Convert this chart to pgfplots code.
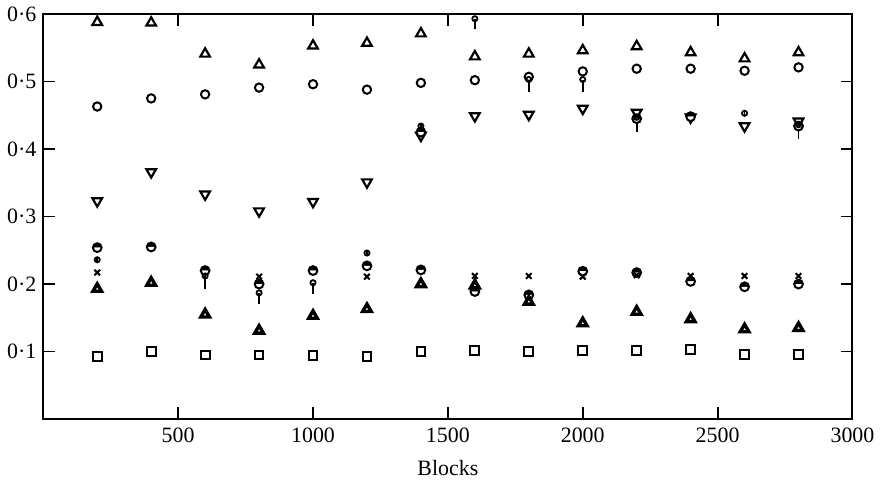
\documentclass[border=0pt]{standalone}
\usepackage{fontspec}
\setmainfont{Liberation Serif}
\usepackage{pgfplots}
\pgfplotsset{compat=1.18}
\usepackage{pgfplotstable}
\usetikzlibrary{plotmarks}

% Fractions against number of blocks
\pgfplotstableread{
x y
200 0.588
400 0.587
600 0.541
800 0.525
1000 0.553
1200 0.557
1400 0.571
1600 0.537
1800 0.541
2000 0.546
2200 0.552
2400 0.543
2600 0.534
2800 0.543
}\uptri
\pgfplotstableread{
x y
200 0.463
400 0.475
600 0.481
800 0.491
1000 0.496
1200 0.488
1400 0.498
1600 0.502
1800 0.507
2000 0.515
2200 0.519
2400 0.519
2600 0.516
2800 0.521
}\opencirc
\pgfplotstableread{
x y
200 0.323
400 0.366
600 0.333
800 0.308
1000 0.322
1200 0.351
1400 0.420
1600 0.449
1800 0.451
2000 0.460
2200 0.454
2400 0.447
2600 0.434
2800 0.441
}\downtri
\pgfplotstableread{
x y ey
200 0.236 0
600 0.212 0.016
800 0.187 0.013
1000 0.202 0.013
1200 0.246 0
1400 0.434 0
1600 0.593 0.012
1800 0.503 0.015
2000 0.503 0.015
2200 0.447 0.018
2600 0.453 0
2800 0.436 0.017
}\smallcirc
\pgfplotstableread{
x y
200 0.254
400 0.255
600 0.220
800 0.200
1000 0.220
1200 0.227
1400 0.221
1600 0.189
1800 0.184
2000 0.219
2200 0.217
2400 0.204
2600 0.196
2800 0.200
1400 0.425
2200 0.445
2400 0.448
2800 0.434
}\halfcirc
\pgfplotstableread{
x y
200 0.217
800 0.211
1200 0.211
1600 0.212
1800 0.212
2000 0.211
2200 0.213
2400 0.212
2600 0.212
2800 0.212
}\crosses
\pgfplotstableread{
x y
200 0.193
400 0.202
600 0.155
800 0.131
1000 0.153
1200 0.163
1400 0.200
1600 0.198
1800 0.174
2000 0.142
2200 0.159
2400 0.148
2600 0.133
2800 0.135
}\boldtri
\pgfplotstableread{
x y
200 0.093
400 0.100
600 0.095
800 0.095
1000 0.094
1200 0.093
1400 0.100
1600 0.102
1800 0.100
2000 0.102
2200 0.102
2400 0.103
2600 0.096
2800 0.096
}\squares

\begin{document}
\begin{tikzpicture}
\begin{axis}[
  scale only axis,
  width=406.5pt, height=203.5pt,
  xmin=0, xmax=3000, ymin=0, ymax=0.6,
  clip=false,
  axis line style={line width=1pt},
  tick align=inside,
  tick pos=both,
  xticklabel pos=lower,
  yticklabel pos=left,
  major tick length=6pt,
  tick style={line width=0.9pt, black},
  xtick={500,1000,1500,2000,2500,3000},
  ytick={0.1,0.2,0.3,0.4,0.5,0.6},
  yticklabels={0·1,0·2,0·3,0·4,0·5,0·6},
  /pgf/number format/assume math mode=true,
  /pgf/number format/1000 sep={},
  ticklabel style={font=\fontsize{11}{13}\selectfont},
  xticklabel style={yshift=-1pt},
  xlabel={Blocks},
  xlabel style={font=\fontsize{11}{13}\selectfont, yshift=-2pt},
  every axis plot/.append style={only marks, black},
]
\addplot[mark=triangle, mark size=2.8pt, mark options={solid, fill=white, line width=1.1pt}] table {\uptri};
\addplot[mark=o, mark size=2.1pt, mark options={solid, line width=1pt}] table {\opencirc};
\addplot[mark=triangle, mark size=2.8pt, mark options={solid, rotate=180, fill=white, line width=1.1pt}] table {\downtri};
\addplot[mark=halfcircle*, mark size=2.2pt, mark options={solid, fill=black, draw=black, line width=1pt}] table {\halfcirc};
\addplot[mark=x, mark size=2pt, mark options={solid, line width=1pt}] table {\crosses};
\addplot[mark=o, mark size=1.3pt, mark options={solid, fill=white, line width=0.9pt},
  error bars/.cd, y dir=minus, y explicit,
  error mark=-, error mark options={mark size=1.2pt, line width=0.9pt},
  error bar style={line width=0.9pt}]
  table[y error=ey] {\smallcirc};
\addplot[mark=triangle, mark size=2.5pt, mark options={solid, fill=white, line width=1.7pt}] table {\boldtri};
\addplot[mark=square, mark size=2.2pt, mark options={solid, line width=1pt}] table {\squares};
\end{axis}
\path (-21.75pt,-28.5pt) rectangle (418.75pt,210.5pt);
\end{tikzpicture}
\end{document}
